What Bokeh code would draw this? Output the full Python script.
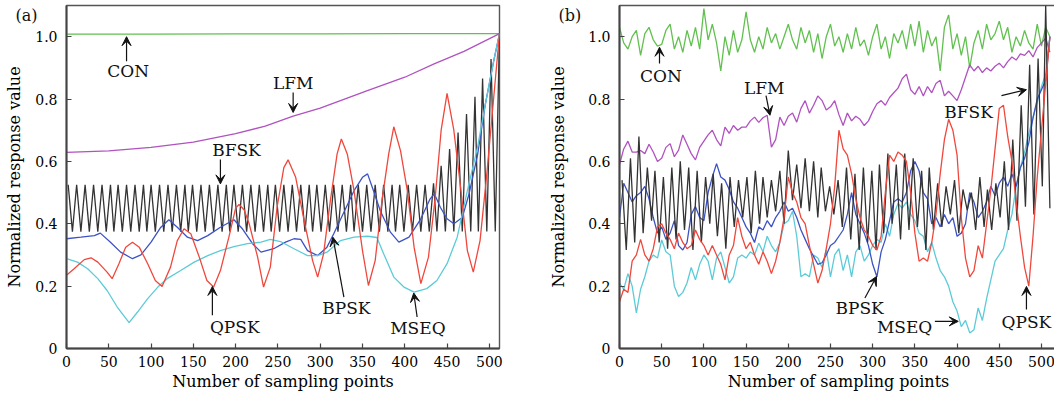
from bokeh.plotting import figure
from bokeh.layouts import row
from bokeh.models import Range1d, FixedTicker, CustomJSTickFormatter, Label, Arrow, VeeHead
from bokeh.embed import file_html
from bokeh.resources import INLINE

FONT = "DejaVu Serif"

x_ticks = [0, 50, 100, 150, 200, 250, 300, 350, 400, 450, 500]
y_ticks = [0, 0.2, 0.4, 0.6, 0.8, 1.0]
x_label = "Number of sampling points"
y_label = "Normalized response value"
series_names = ["CON", "LFM", "BFSK", "QPSK", "BPSK", "MSEQ"]

# ---------------- panel (a) data ----------------
a_con_x = [0, 100, 200, 300, 400, 512]
a_con_y = [1.008, 1.008, 1.009, 1.009, 1.01, 1.01]

a_lfm_x = [0, 50, 100, 150, 200, 235, 268, 300, 355, 400, 434, 470, 512]
a_lfm_y = [0.629, 0.634, 0.645, 0.662, 0.689, 0.713, 0.745, 0.771, 0.826, 0.87, 0.912, 0.953, 1.01]

a_bfsk_peak_x = [2, 12, 22, 32, 42, 52, 61, 71, 81, 91,
                 100, 110, 120, 130, 140, 149, 159, 169, 179, 189,
                 198, 208, 218, 228, 238, 247, 257, 267, 277, 287,
                 296, 306, 316, 326, 336, 345, 355, 365, 375, 385,
                 394, 404, 414, 424, 434, 443, 453, 463, 473, 483,
                 492, 502, 512]
a_bfsk_peak_y = [0.525, 0.525, 0.525, 0.525, 0.525, 0.525, 0.525, 0.525, 0.525, 0.525,
                 0.525, 0.525, 0.525, 0.525, 0.525, 0.525, 0.525, 0.525, 0.525, 0.525,
                 0.525, 0.525, 0.525, 0.525, 0.525, 0.525, 0.525, 0.525, 0.525, 0.525,
                 0.525, 0.525, 0.525, 0.525, 0.525, 0.525, 0.525, 0.525, 0.525, 0.525,
                 0.525, 0.525, 0.525, 0.525, 0.53, 0.586, 0.64, 0.693, 0.752, 0.807,
                 0.866, 0.928, 1.01]
a_bfsk_trough_x = [7, 17, 27, 37, 47, 56, 66, 76, 86, 95,
                   105, 115, 125, 135, 144, 154, 164, 174, 184, 193,
                   203, 213, 223, 233, 242, 252, 262, 272, 282, 291,
                   301, 311, 321, 331, 340, 350, 360, 370, 380, 389,
                   399, 409, 419, 429, 438, 448, 458, 468, 478, 487,
                   497, 507]
a_bfsk_trough_y = [0.375, 0.375, 0.375, 0.375, 0.375, 0.375, 0.375, 0.375, 0.375, 0.375,
                   0.375, 0.375, 0.375, 0.375, 0.375, 0.375, 0.375, 0.375, 0.375, 0.375,
                   0.375, 0.375, 0.375, 0.375, 0.375, 0.375, 0.375, 0.375, 0.375, 0.375,
                   0.375, 0.375, 0.375, 0.375, 0.375, 0.375, 0.375, 0.375, 0.375, 0.375,
                   0.375, 0.375, 0.375, 0.375, 0.375, 0.375, 0.375, 0.375, 0.375, 0.375,
                   0.375, 0.375]

a_qpsk_x = [0, 9, 21, 29, 37, 48, 54, 62, 70, 78, 86, 96, 105, 113, 123, 131, 139, 147, 157,
            166, 174, 182, 192, 200, 204, 210, 216, 226, 233, 241, 249, 257, 262, 271, 281,
            291, 297, 304, 312, 320, 325, 332, 340, 350, 357, 365, 373, 381, 387, 395, 403,
            411, 419, 428, 436, 443, 450, 458, 466, 474, 481, 489, 497, 505, 512]
a_qpsk_y = [0.235, 0.256, 0.285, 0.291, 0.277, 0.245, 0.224, 0.272, 0.325, 0.341, 0.325, 0.272,
            0.218, 0.199, 0.261, 0.346, 0.384, 0.368, 0.293, 0.218, 0.197, 0.25, 0.357, 0.45,
            0.462, 0.445, 0.40, 0.293, 0.197, 0.261, 0.453, 0.58, 0.605, 0.549, 0.41, 0.282,
            0.229, 0.304, 0.474, 0.624, 0.672, 0.624, 0.506, 0.314, 0.202, 0.282, 0.474, 0.624,
            0.711, 0.634, 0.506, 0.325, 0.208, 0.293, 0.485, 0.70, 0.818, 0.70, 0.517, 0.314,
            0.245, 0.346, 0.56, 0.80, 1.01]

a_bpsk_x = [0, 17, 33, 40, 52, 64, 78, 88, 100, 111, 121, 131, 143, 155, 167, 182, 198, 208,
            220, 230, 245, 259, 269, 277, 285, 297, 308, 316, 328, 340, 350, 356, 363, 371, 383,
            393, 405, 419, 430, 435, 442, 450, 458, 468, 476, 486, 495, 505, 512]
a_bpsk_y = [0.352, 0.357, 0.362, 0.37, 0.341, 0.309, 0.288, 0.30, 0.341, 0.387, 0.413, 0.389,
            0.357, 0.346, 0.362, 0.389, 0.413, 0.384, 0.336, 0.309, 0.32, 0.341, 0.352, 0.35,
            0.314, 0.298, 0.325, 0.368, 0.437, 0.506, 0.549, 0.56, 0.506, 0.442, 0.373, 0.341,
            0.357, 0.416, 0.48, 0.496, 0.453, 0.416, 0.40, 0.42, 0.496, 0.62, 0.78, 0.92, 1.01]

a_mseq_x = [0, 13, 25, 37, 48, 60, 74, 84, 96, 108, 119, 135, 151, 167, 182, 198, 214, 230,
            241, 253, 269, 285, 297, 308, 324, 340, 356, 367, 375, 387, 399, 411, 426, 438, 450,
            462, 474, 486, 495, 505, 512]
a_mseq_y = [0.288, 0.277, 0.256, 0.224, 0.186, 0.133, 0.083, 0.117, 0.16, 0.197, 0.224, 0.25,
            0.277, 0.298, 0.314, 0.327, 0.336, 0.341, 0.35, 0.343, 0.32, 0.298, 0.298, 0.309,
            0.346, 0.357, 0.36, 0.356, 0.304, 0.229, 0.197, 0.181, 0.192, 0.218, 0.272, 0.357,
            0.506, 0.645, 0.78, 0.92, 1.01]

# ---------------- panel (b) data ----------------
b_x = list(range(0, 515, 5))  # sampling points 0..510

b_con_y = [1.03, 0.98, 0.96, 1.00, 1.02, 0.94, 1.01, 1.03, 0.99, 0.97,
           0.975, 1.02, 1.04, 0.96, 1.00, 0.95, 1.02, 0.97, 1.03, 0.96,
           1.09, 0.99, 1.04, 0.98, 0.89, 1.00, 0.94, 1.02, 0.95, 0.99,
           1.08, 0.99, 0.95, 1.00, 0.96, 1.03, 0.98, 1.01, 0.96, 1.00,
           1.04, 0.99, 0.96, 1.03, 0.98, 1.02, 0.95, 1.01, 0.93, 1.00,
           1.04, 0.97, 1.00, 0.95, 1.01, 0.96, 1.03, 0.97, 0.99, 0.94,
           1.00, 1.04, 0.96, 1.00, 0.93, 1.01, 0.98, 1.02, 0.96, 1.04,
           0.97, 1.05, 0.95, 1.02, 0.97, 1.00, 0.89, 1.03, 1.07, 0.96,
           1.01, 0.94, 1.00, 0.90, 0.98, 1.02, 0.96, 1.04, 0.99, 1.01,
           1.05, 0.99, 1.03, 0.95, 1.00, 0.97, 1.02, 0.98, 0.96, 1.04,
           0.97, 1.03, 1.00]

b_lfm_y = [0.59, 0.64, 0.665, 0.63, 0.63, 0.635, 0.625, 0.655, 0.63, 0.60,
           0.61, 0.645, 0.657, 0.615, 0.636, 0.685, 0.655, 0.625, 0.605, 0.645,
           0.665, 0.685, 0.70, 0.67, 0.65, 0.71, 0.69, 0.715, 0.70, 0.71,
           0.71, 0.73, 0.742, 0.725, 0.74, 0.748, 0.646, 0.67, 0.742, 0.715,
           0.745, 0.755, 0.726, 0.77, 0.795, 0.755, 0.78, 0.81, 0.795, 0.765,
           0.775, 0.795, 0.75, 0.715, 0.755, 0.73, 0.745, 0.735, 0.715, 0.73,
           0.76, 0.785, 0.795, 0.78, 0.805, 0.82, 0.835, 0.865, 0.88, 0.83,
           0.815, 0.84, 0.81, 0.84, 0.82, 0.85, 0.86, 0.81, 0.825, 0.81,
           0.795, 0.83, 0.87, 0.91, 0.89, 0.905, 0.885, 0.90, 0.89, 0.905,
           0.915, 0.90, 0.92, 0.935, 0.925, 0.945, 0.94, 0.955, 0.935, 0.965,
           0.98, 0.995, 0.95]

b_bfsk_peak_x = [3, 13, 23, 33, 42, 52, 62, 72, 82, 92,
                 102, 111, 121, 131, 141, 151, 161, 170, 180, 190,
                 200, 210, 220, 230, 239, 249, 259, 269, 279, 289,
                 299, 308, 318, 328, 338, 348, 358, 367, 377, 387,
                 397, 407, 417, 427, 436, 446, 456, 466, 476, 486,
                 496, 505]
b_bfsk_peak_y = [0.54, 0.61, 0.68, 0.58, 0.57, 0.55, 0.58, 0.60, 0.58, 0.57,
                 0.55, 0.56, 0.53, 0.55, 0.54, 0.55, 0.57, 0.55, 0.54, 0.57,
                 0.635, 0.59, 0.61, 0.60, 0.58, 0.52, 0.54, 0.58, 0.56, 0.58,
                 0.57, 0.59, 0.625, 0.59, 0.625, 0.61, 0.57, 0.58, 0.53, 0.52,
                 0.54, 0.51, 0.50, 0.55, 0.51, 0.53, 0.60, 0.67, 0.78, 0.91,
                 0.93, 1.10]
b_bfsk_trough_x = [8, 18, 28, 38, 47, 57, 67, 77, 87, 97,
                   107, 116, 126, 136, 146, 156, 166, 175, 185, 195,
                   205, 215, 225, 235, 244, 254, 264, 274, 284, 294,
                   304, 313, 323, 333, 343, 353, 363, 372, 382, 392,
                   402, 412, 422, 432, 441, 451, 461, 471, 481, 491,
                   501, 510]
b_bfsk_trough_y = [0.316, 0.34, 0.37, 0.41, 0.34, 0.32, 0.35, 0.38, 0.316, 0.34,
                   0.40, 0.36, 0.32, 0.39, 0.42, 0.37, 0.40, 0.42, 0.44, 0.40,
                   0.476, 0.45, 0.44, 0.42, 0.44, 0.43, 0.39, 0.35, 0.316, 0.34,
                   0.316, 0.37, 0.40, 0.35, 0.38, 0.39, 0.316, 0.38, 0.39, 0.43,
                   0.37, 0.444, 0.38, 0.39, 0.38, 0.42, 0.38, 0.41, 0.455, 0.43,
                   0.52, 0.45]

b_qpsk_y = [0.15, 0.19, 0.18, 0.28, 0.30, 0.35, 0.30, 0.28, 0.32, 0.39,
            0.40, 0.37, 0.35, 0.32, 0.37, 0.34, 0.32, 0.33, 0.38, 0.35,
            0.33, 0.30, 0.33, 0.30, 0.27, 0.22, 0.30, 0.33, 0.42, 0.36,
            0.32, 0.34, 0.30, 0.27, 0.31, 0.28, 0.24, 0.28, 0.34, 0.42,
            0.55, 0.50, 0.47, 0.42, 0.40, 0.33, 0.27, 0.21, 0.25, 0.32,
            0.40, 0.52, 0.70, 0.64, 0.62, 0.56, 0.48, 0.42, 0.38, 0.36,
            0.33, 0.316, 0.36, 0.50, 0.62, 0.60, 0.63, 0.62, 0.60, 0.50,
            0.37, 0.28, 0.29, 0.28, 0.34, 0.43, 0.56, 0.67, 0.735, 0.70,
            0.62, 0.42, 0.29, 0.23, 0.25, 0.33, 0.29, 0.40, 0.51, 0.64,
            0.77, 0.78, 0.68, 0.60, 0.47, 0.36, 0.26, 0.20, 0.36, 0.55,
            0.70, 0.85, 1.00]

b_bpsk_y = [0.42, 0.53, 0.50, 0.47, 0.49, 0.50, 0.52, 0.48, 0.42, 0.37,
            0.39, 0.35, 0.37, 0.41, 0.33, 0.316, 0.34, 0.43, 0.455, 0.42,
            0.41, 0.50, 0.55, 0.593, 0.55, 0.54, 0.51, 0.47, 0.45, 0.42,
            0.39, 0.37, 0.34, 0.39, 0.38, 0.41, 0.39, 0.42, 0.44, 0.47,
            0.44, 0.45, 0.42, 0.38, 0.35, 0.32, 0.295, 0.27, 0.275, 0.30,
            0.33, 0.34, 0.36, 0.38, 0.43, 0.50, 0.43, 0.40, 0.37, 0.33,
            0.27, 0.23, 0.31, 0.35, 0.41, 0.47, 0.48, 0.47, 0.50, 0.57,
            0.60, 0.57, 0.50, 0.48, 0.40, 0.42, 0.39, 0.43, 0.40, 0.42,
            0.36, 0.37, 0.40, 0.50, 0.47, 0.42, 0.44, 0.47, 0.52, 0.49,
            0.53, 0.55, 0.52, 0.56, 0.52, 0.58, 0.61, 0.66, 0.74, 0.80,
            0.83, 0.86, 1.00]

b_mseq_y = [0.21, 0.19, 0.24, 0.20, 0.114, 0.19, 0.23, 0.28, 0.30, 0.29,
            0.348, 0.31, 0.30, 0.20, 0.167, 0.18, 0.21, 0.26, 0.22, 0.27,
            0.30, 0.28, 0.22, 0.29, 0.31, 0.26, 0.21, 0.23, 0.29, 0.30,
            0.29, 0.31, 0.30, 0.338, 0.31, 0.36, 0.33, 0.31, 0.34, 0.40,
            0.41, 0.44, 0.36, 0.23, 0.24, 0.23, 0.30, 0.29, 0.26, 0.316,
            0.23, 0.30, 0.32, 0.25, 0.30, 0.23, 0.31, 0.33, 0.28, 0.30,
            0.33, 0.35, 0.34, 0.40, 0.36, 0.43, 0.465, 0.45, 0.47, 0.43,
            0.41, 0.37, 0.36, 0.31, 0.34, 0.29, 0.25, 0.23, 0.20, 0.15,
            0.12, 0.07, 0.09, 0.05, 0.06, 0.13, 0.09, 0.16, 0.22, 0.28,
            0.30, 0.32, 0.38, 0.43, 0.52, 0.58, 0.63, 0.69, 0.74, 0.79,
            0.84, 0.88, 1.00]

# ---------------- styles & annotation layout ----------------
COLORS = {"CON": "#62c050", "LFM": "#b052bf", "BFSK": "#333333",
          "QPSK": "#f0473c", "BPSK": "#3d52c4", "MSEQ": "#5ccbd8"}

# (text, text_x, text_y, arrow_x0, arrow_y0, arrow_x1, arrow_y1)
annot_a = [
    ("CON", 73, 0.889, 71, 0.921, 71, 1.0),
    ("LFM", 268, 0.853, 268, 0.821, 268, 0.757),
    ("BFSK", 201, 0.636, 182, 0.606, 182, 0.528),
    ("QPSK", 199, 0.07, 172.5, 0.107, 172.5, 0.199),
    ("BPSK", 331, 0.13, 328, 0.165, 315, 0.357),
    ("MSEQ", 415.5, 0.067, 414.6, 0.101, 410.6, 0.178),
]
annot_b = [
    ("CON", 49, 0.875, 47.4, 0.914, 47.4, 0.966),
    ("LFM", 171.4, 0.837, 173.6, 0.811, 178.3, 0.748),
    ("BFSK", 413.6, 0.757, 452.6, 0.811, 482.2, 0.83),
    ("BPSK", 284.5, 0.131, 290.8, 0.162, 304.6, 0.231),
    ("MSEQ", 337.8, 0.07, 373.7, 0.087, 401.4, 0.087),
    ("QPSK", 482.2, 0.086, 482.2, 0.125, 482.2, 0.199),
]


def merge(px, py, tx, ty):
    pts = sorted(zip(list(px) + list(tx), list(py) + list(ty)))
    return [p[0] for p in pts], [p[1] for p in pts]


def make_fig(frame_w, xmax, border_left, border_right, label_standoff, panel_text, panel_offset):
    p = figure(frame_width=frame_w, frame_height=343,
               x_range=Range1d(0, xmax), y_range=Range1d(0, 1.1),
               output_backend="svg", toolbar_location=None,
               min_border_left=border_left, min_border_right=border_right,
               min_border_top=5, min_border_bottom=50)
    p.xgrid.visible = False
    p.ygrid.visible = False
    p.background_fill_color = "white"
    p.border_fill_color = "white"
    p.outline_line_color = "#555555"
    p.outline_line_width = 1.4
    p.xaxis.ticker = FixedTicker(ticks=x_ticks)
    p.yaxis.ticker = FixedTicker(ticks=y_ticks)
    p.yaxis.formatter = CustomJSTickFormatter(code="return tick == 0 ? '0' : tick.toFixed(1);")
    p.xaxis.axis_label = x_label
    p.yaxis.axis_label = y_label
    for ax in (p.xaxis[0], p.yaxis[0]):
        ax.major_tick_in = 5
        ax.major_tick_out = 0
        ax.minor_tick_line_color = None
        ax.axis_line_color = "#444444"
        ax.axis_line_width = 2
        ax.major_tick_line_color = "#444444"
        ax.major_tick_line_width = 1.2
        ax.major_label_text_font = FONT
        ax.major_label_text_font_size = "14px"
        ax.major_label_text_color = "#000000"
        ax.axis_label_text_font = FONT
        ax.axis_label_text_font_size = "16px"
        ax.axis_label_text_font_style = "normal"
        ax.axis_label_text_color = "#000000"
    p.xaxis.major_label_standoff = 7
    p.xaxis.axis_label_standoff = 2
    p.yaxis.major_label_standoff = 9
    p.yaxis.axis_label_standoff = label_standoff
    # panel tag "(a)" / "(b)" at the top-left corner, outside the frame
    p.title.text = panel_text
    p.title.align = "left"
    p.title.vertical_align = "bottom"
    p.title.offset = panel_offset
    p.title.standoff = -38
    p.title.text_font = FONT
    p.title.text_font_size = "16px"
    p.title.text_font_style = "normal"
    p.title.text_color = "#111111"
    return p


def add_annotations(p, items):
    for text, tx, ty, x0, y0, x1, y1 in items:
        p.add_layout(Arrow(end=VeeHead(size=9, fill_color="#111111", line_color="#111111",
                                       line_width=1),
                           x_start=x0, y_start=y0, x_end=x1, y_end=y1,
                           line_color="#111111", line_width=1.2))
        p.add_layout(Label(x=tx, y=ty, text=text, text_align="center", text_baseline="middle",
                           text_font=FONT, text_font_size="17px", text_color="#111111"))


LW = 1.3

# panel (a)
pa = make_fig(433, 512, 66, 47, 8, "(a)", -51)
bx, by = merge(a_bfsk_peak_x, a_bfsk_peak_y, a_bfsk_trough_x, a_bfsk_trough_y)
pa.line(a_con_x, a_con_y, line_color=COLORS["CON"], line_width=LW)
pa.line(a_lfm_x, a_lfm_y, line_color=COLORS["LFM"], line_width=LW)
pa.line(bx, by, line_color=COLORS["BFSK"], line_width=LW)
pa.line(a_bpsk_x, a_bpsk_y, line_color=COLORS["BPSK"], line_width=LW)
pa.line(a_mseq_x, a_mseq_y, line_color=COLORS["MSEQ"], line_width=LW)
pa.line(a_qpsk_x, a_qpsk_y, line_color=COLORS["QPSK"], line_width=LW)
add_annotations(pa, annot_a)

# panel (b)
pb = make_fig(438, 519, 67, 2, 17, "(b)", -61)
cx, cy = merge(b_bfsk_peak_x, b_bfsk_peak_y, b_bfsk_trough_x, b_bfsk_trough_y)
pb.line(b_x, b_con_y, line_color=COLORS["CON"], line_width=LW)
pb.line(b_x, b_lfm_y, line_color=COLORS["LFM"], line_width=LW)
pb.line(b_x, b_mseq_y, line_color=COLORS["MSEQ"], line_width=LW)
pb.line(b_x, b_bpsk_y, line_color=COLORS["BPSK"], line_width=LW)
pb.line(cx, cy, line_color=COLORS["BFSK"], line_width=LW)
pb.line(b_x, b_qpsk_y, line_color=COLORS["QPSK"], line_width=LW)
add_annotations(pb, annot_b)

layout = row(pa, pb)
open("out.html", "w").write(file_html(layout, INLINE))
